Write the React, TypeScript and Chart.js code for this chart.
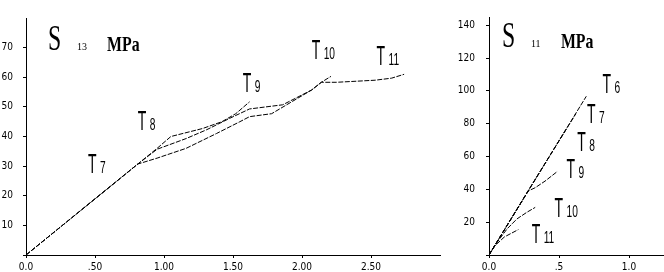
import React, { useEffect, useRef } from "react";
import { Chart, registerables } from "chart.js";
Chart.register(...registerables);

// ---------- Left chart: S13 (MPa) ----------
const s13XTicks = [0, 0.5, 1, 1.5, 2, 2.5];
const s13XLabels = ["0.0", ".50", "1.00", "1.50", "2.00", "2.50"];
const s13YTicks = [0, 10, 20, 30, 40, 50, 60, 70];
const s13YLabels = ["", "10", "20", "30", "40", "50", "60", "70"];
const s13XMax = 3;
const s13YMax = 80;

const s13UpperX = [0, 0.81, 0.95, 1.05, 1.28, 1.42, 1.52, 1.62];
const s13UpperY = [0, 30.7, 36, 40, 42.7, 45, 47.7, 51.7];
const s13MiddleX = [0, 0.81, 0.95, 1.16, 1.31, 1.47, 1.62, 1.86, 2.07, 2.14, 2.21];
const s13MiddleY = [0, 30.7, 35.7, 39.3, 42.3, 46, 49.3, 50.7, 55.7, 58.3, 60.3];
const s13LowerX = [0, 0.81, 0.95, 1.16, 1.38, 1.55, 1.62, 1.78, 2.07, 2.14, 2.25, 2.53, 2.65, 2.74];
const s13LowerY = [0, 30.7, 32.7, 36, 41, 45, 46.7, 47.7, 55.7, 58.3, 58.3, 59, 59.7, 61];

const s13LabelNames = ["7", "8", "9", "10", "11"];
const s13LabelX = [0.45, 0.81, 1.57, 2.07, 2.54];
const s13LabelY = [27.7, 42.3, 55, 66, 64.3];
const s13TitleSub = "13";
const s13TitleAt = [0.16, 69.3];

// ---------- Right chart: S11 (MPa) ----------
const s11XTicks = [0, 0.5, 1.0];
const s11XLabels = ["0.0", ".5", "1.0"];
const s11YTicks = [0, 20, 40, 60, 80, 100, 120, 140];
const s11YLabels = ["", "20", "40", "60", "80", "100", "120", "140"];
const s11XMax = 1.25;
const s11YMax = 145;

const s11T6X = [0, 0.35, 0.695];
const s11T6Y = [0, 48.8, 96.7];
const s11T7X = [0, 0.3, 0.62];
const s11T7Y = [0, 42, 86];
const s11T8X = [0, 0.55];
const s11T8Y = [0, 76.5];
const s11T9X = [0, 0.1, 0.28, 0.33, 0.4, 0.49];
const s11T9Y = [0, 14, 39, 41, 45, 51];
const s11T10X = [0, 0.06, 0.13, 0.2, 0.27, 0.33];
const s11T10Y = [0, 8, 16, 22, 26, 29];
const s11T11X = [0, 0.04, 0.11, 0.21];
const s11T11Y = [0, 5.5, 11, 15.5];

const s11LabelNames = ["6", "7", "8", "9", "10", "11"];
const s11LabelX = [0.81, 0.7, 0.63, 0.553, 0.468, 0.305];
const s11LabelY = [98.5, 80.4, 63.4, 47.1, 23, 7.3];
const s11TitleSub = "11";
const s11TitleAt = [0.092, 126.9];

const pts = (xs: number[], ys: number[]) => xs.map((x, i) => ({ x, y: ys[i] }));

function drawScaled(ctx: CanvasRenderingContext2D, text: string, x: number, y: number, font: string, sx: number) {
  ctx.save();
  ctx.translate(x, y);
  ctx.scale(sx, 1);
  ctx.font = font;
  ctx.fillStyle = "#000";
  ctx.textAlign = "left";
  ctx.textBaseline = "alphabetic";
  ctx.fillText(text, 0, 0);
  ctx.restore();
}

const annotPlugin = {
  id: "annot",
  afterDraw(chart: any, _args: any, opts: any) {
    const { ctx } = chart;
    const xs = chart.scales.x;
    const ys = chart.scales.y;
    const names: string[] = opts.names || [];
    const lx: number[] = opts.lx || [];
    const ly: number[] = opts.ly || [];
    names.forEach((n, i) => {
      const px = xs.getPixelForValue(lx[i]);
      const py = ys.getPixelForValue(ly[i]);
      drawScaled(ctx, "T", px, py, '28px "Liberation Sans"', 0.5);
      drawScaled(ctx, n, px + 12, py, '17px "Liberation Sans"', 0.6);
    });
    if (opts.title) {
      const px = xs.getPixelForValue(opts.title[0]);
      const py = ys.getPixelForValue(opts.title[1]);
      drawScaled(ctx, "S", px, py, '35px "Liberation Serif"', 0.68);
      drawScaled(ctx, opts.sub, px + 29, py, '10px "Liberation Serif"', 1);
      drawScaled(ctx, "MPa", px + 59, py + 1, 'bold 22px "Liberation Serif"', 0.72);
    }
  },
};

const tickFont = { family: '"Liberation Sans Narrow", "DejaVu Sans Condensed", sans-serif', size: 10 };

function makeChart(canvas: HTMLCanvasElement, cfg: any) {
  const lineDs = (data: any[]) => ({
    data,
    borderColor: "#000",
    borderWidth: 1,
    borderDash: [5, 1.5],
    pointRadius: 0,
    fill: false,
    tension: 0,
  });
  return new Chart(canvas, {
    type: "line",
    data: { datasets: cfg.series.map((s: any[]) => lineDs(s)) },
    plugins: [annotPlugin as any],
    options: {
      responsive: false,
      animation: false,
      devicePixelRatio: 1,
      layout: { padding: cfg.padding },
      plugins: {
        legend: { display: false },
        tooltip: { enabled: false },
        annot: { names: cfg.names, lx: cfg.lx, ly: cfg.ly, title: cfg.title, sub: cfg.sub },
      } as any,
      scales: {
        x: {
          type: "linear",
          min: 0,
          max: cfg.xMax,
          afterBuildTicks: (s: any) => {
            s.ticks = cfg.xTicks.map((v: number) => ({ value: v }));
          },
          afterFit: (s: any) => {
            s.height = 17;
          },
          ticks: {
            autoSkip: false,
            maxRotation: 0,
            padding: 3,
            color: "#000",
            font: tickFont,
            callback: (v: any) => cfg.xLabels[cfg.xTicks.indexOf(v)] ?? "",
          },
          grid: { display: true, drawOnChartArea: false, drawTicks: true, tickLength: 3, color: "#000" },
          border: { display: true, color: "#000", width: 1, dash: [14, 4] },
        },
        y: {
          type: "linear",
          min: 0,
          max: cfg.yMax,
          afterBuildTicks: (s: any) => {
            s.ticks = cfg.yTicks.map((v: number) => ({ value: v }));
          },
          afterFit: (s: any) => {
            s.width = cfg.yWidth;
          },
          ticks: {
            autoSkip: false,
            padding: cfg.yPad,
            color: "#000",
            font: tickFont,
            callback: (v: any) => cfg.yLabels[cfg.yTicks.indexOf(v)] ?? "",
          },
          grid: { display: true, drawOnChartArea: false, drawTicks: true, tickLength: 3, color: "#000" },
          border: { display: true, color: "#000", width: 1 },
        },
      },
    } as any,
  });
}

export default function App() {
  const leftRef = useRef<HTMLCanvasElement>(null);
  const rightRef = useRef<HTMLCanvasElement>(null);

  useEffect(() => {
    const c1 = makeChart(leftRef.current!, {
      series: [pts(s13UpperX, s13UpperY), pts(s13MiddleX, s13MiddleY), pts(s13LowerX, s13LowerY)],
      xTicks: s13XTicks,
      xLabels: s13XLabels,
      yTicks: s13YTicks,
      yLabels: s13YLabels,
      xMax: s13XMax,
      yMax: s13YMax,
      yWidth: 26,
      yPad: 10,
      padding: { top: 18, right: 10, left: 0, bottom: 0 },
      names: s13LabelNames,
      lx: s13LabelX,
      ly: s13LabelY,
      title: s13TitleAt,
      sub: s13TitleSub,
    });
    const c2 = makeChart(rightRef.current!, {
      series: [
        pts(s11T6X, s11T6Y),
        pts(s11T7X, s11T7Y),
        pts(s11T8X, s11T8Y),
        pts(s11T9X, s11T9Y),
        pts(s11T10X, s11T10Y),
        pts(s11T11X, s11T11Y),
      ],
      xTicks: s11XTicks,
      xLabels: s11XLabels,
      yTicks: s11YTicks,
      yLabels: s11YLabels,
      xMax: s11XMax,
      yMax: s11YMax,
      yWidth: 39,
      yPad: 11,
      padding: { top: 15, right: 0, left: 0, bottom: 0 },
      names: s11LabelNames,
      lx: s11LabelX,
      ly: s11LabelY,
      title: s11TitleAt,
      sub: s11TitleSub,
    });
    return () => {
      c1.destroy();
      c2.destroy();
    };
  }, []);

  return (
    <div style={{ position: "absolute", left: 0, top: 0, width: 664, height: 272, background: "#fff", overflow: "hidden" }}>
      <canvas ref={leftRef} width={450} height={272} style={{ position: "absolute", left: 0, top: 0, display: "block" }} />
      <canvas ref={rightRef} width={214} height={272} style={{ position: "absolute", left: 450, top: 0, display: "block" }} />
    </div>
  );
}
